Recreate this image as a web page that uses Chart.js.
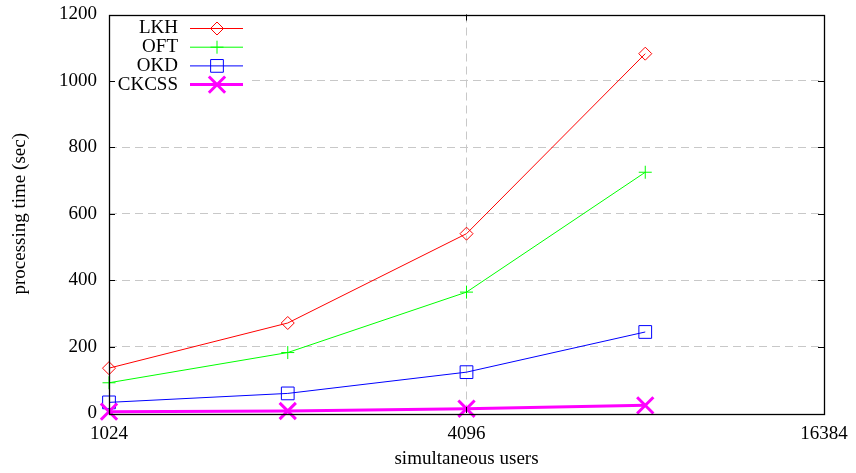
<!DOCTYPE html>
<html>
<head>
<meta charset="utf-8">
<script src="https://cdn.jsdelivr.net/npm/chart.js@4.4.0/dist/chart.umd.min.js"></script>
<style>
  html, body { margin: 0; padding: 0; background: #fff; }
  #wrap { width: 856px; height: 473px; }
</style>
</head>
<body>
<div id="wrap"><canvas id="myChart" width="856" height="473"></canvas></div>
<script>
// data
const users = [1024, 2048, 4096, 8192];
const lkh = [135, 271, 540, 1082];
const oft = [91, 182, 364, 725];
const okd = [32, 59, 123, 244];
const ckcss = [4, 6, 13, 23];
const xTicks = [1024, 4096, 16384];
const yTicks = [0, 200, 400, 600, 800, 1000, 1200];

const FONT = "'Liberation Serif', 'Times New Roman', serif";

function pts(vals) {
  return users.map((u, i) => ({ x: u, y: vals[i] }));
}

function series(label, vals, color, style, radius, width, order) {
  return {
    label: label,
    data: pts(vals),
    borderColor: color,
    backgroundColor: "transparent",
    borderWidth: width,
    pointStyle: style,
    pointRadius: radius,
    pointHoverRadius: radius,
    pointBorderColor: color,
    pointBackgroundColor: "transparent",
    pointBorderWidth: width,
    tension: 0,
    clip: false,
    order: order,
  };
}

// gnuplot style key in the top left corner
const keyPlugin = {
  id: "key",
  afterDatasetsDraw(chart) {
    const ctx = chart.ctx;
    const a = chart.chartArea;
    ctx.save();
    ctx.fillStyle = "#fff";
    ctx.fillRect(a.left + 1, a.top + 1, 140, 80);
    ctx.font = "19px " + FONT;
    ctx.textAlign = "right";
    ctx.textBaseline = "middle";
    chart.data.datasets.forEach((ds, i) => {
      const y = a.top + 14 + i * 18.7;
      ctx.fillStyle = "#000";
      ctx.fillText(ds.label, a.left + 69, y);
      ctx.strokeStyle = ds.borderColor;
      ctx.lineWidth = ds.borderWidth;
      ctx.beginPath();
      ctx.moveTo(a.left + 81, y);
      ctx.lineTo(a.left + 134, y);
      ctx.stroke();
      ctx.fillStyle = "rgba(0,0,0,0)";
      if (Chart.helpers && Chart.helpers.drawPoint) {
        Chart.helpers.drawPoint(ctx, {
          pointStyle: ds.pointStyle,
          radius: ds.pointRadius,
          borderWidth: ds.pointBorderWidth,
          rotation: 0,
        }, a.left + 108, y);
      }
    });
    ctx.restore();
  },
};

// frame + inward ticks like gnuplot
const framePlugin = {
  id: "frame",
  afterDatasetsDraw(chart) {
    const ctx = chart.ctx;
    const a = chart.chartArea;
    const ys = chart.scales.y;
    const xs = chart.scales.x;
    ctx.save();
    ctx.strokeStyle = "#000";
    ctx.lineWidth = 1;
    ctx.beginPath();
    yTicks.slice(1, -1).forEach((v) => {
      const y = Math.round(ys.getPixelForValue(v)) + 0.5;
      ctx.moveTo(a.left, y);
      ctx.lineTo(a.left + 6, y);
      ctx.moveTo(a.right, y);
      ctx.lineTo(a.right - 6, y);
    });
    const x = Math.round(xs.getPixelForValue(4096)) + 0.5;
    ctx.moveTo(x, a.bottom);
    ctx.lineTo(x, a.bottom - 6);
    ctx.moveTo(x, a.top);
    ctx.lineTo(x, a.top + 6);
    ctx.stroke();
    ctx.lineWidth = 1.3;
    ctx.strokeRect(Math.round(a.left) + 0.5, Math.round(a.top) + 0.5,
      Math.round(a.right - a.left), Math.round(a.bottom - a.top));
    ctx.restore();
  },
};

const ctx = document.getElementById("myChart").getContext("2d");
const myChart = new Chart(ctx, {
  type: "line",
  data: {
    datasets: [
      series("LKH", lkh, "#ff0000", "rectRot", 6.5, 1, 4),
      series("OFT", oft, "#00ff00", "cross", 6.5, 1, 3),
      series("OKD", okd, "#0000ff", "rect", 9, 1, 2),
      series("CKCSS", ckcss, "#ff00ff", "crossRot", 11.5, 3, 1),
    ],
  },
  options: {
    responsive: false,
    animation: false,
    layout: { padding: { top: 14, right: 32, left: 0, bottom: 0 } },
    plugins: {
      legend: { display: false },
      tooltip: { enabled: false },
    },
    scales: {
      x: {
        type: "logarithmic",
        min: 1024,
        max: 16384,
        afterBuildTicks: (scale) => {
          scale.ticks = xTicks.map((v) => ({ value: v }));
        },
        afterFit: (scale) => {
          scale.height = 60;
          scale.paddingLeft = 0;
          scale.paddingRight = 0;
        },
        grid: {
          drawTicks: false,
          color: (c) => (c.tick && c.tick.value === 4096 ? "#c8c8c8" : "transparent"),
          lineWidth: 1,
        },
        border: { display: false, dash: [8, 5] },
        ticks: {
          color: "#000",
          padding: 10,
          maxRotation: 0,
          autoSkip: false,
          font: { family: FONT, size: 19 },
          callback: (v) => String(v),
        },
        title: {
          display: true,
          text: "simultaneous users",
          color: "#000",
          font: { family: FONT, size: 19 },
          padding: { top: 0, bottom: 3 },
        },
      },
      y: {
        min: 0,
        max: 1200,
        afterBuildTicks: (scale) => {
          scale.ticks = yTicks.map((v) => ({ value: v }));
        },
        afterFit: (scale) => {
          scale.width = 109;
          scale.paddingTop = 0;
          scale.paddingBottom = 0;
        },
        grid: {
          drawTicks: false,
          color: (c) => (c.tick && (c.tick.value === 0 || c.tick.value === 1200) ? "transparent" : "#c8c8c8"),
          lineWidth: 1,
        },
        border: { display: false, dash: [8, 5] },
        ticks: {
          color: "#000",
          padding: 12,
          font: { family: FONT, size: 19 },
          callback: (v) => String(v),
        },
        title: {
          display: true,
          text: "processing time (sec)",
          color: "#000",
          font: { family: FONT, size: 19 },
          padding: { top: 9, bottom: 0 },
        },
      },
    },
  },
  plugins: [keyPlugin, framePlugin],
});
</script>
</body>
</html>
